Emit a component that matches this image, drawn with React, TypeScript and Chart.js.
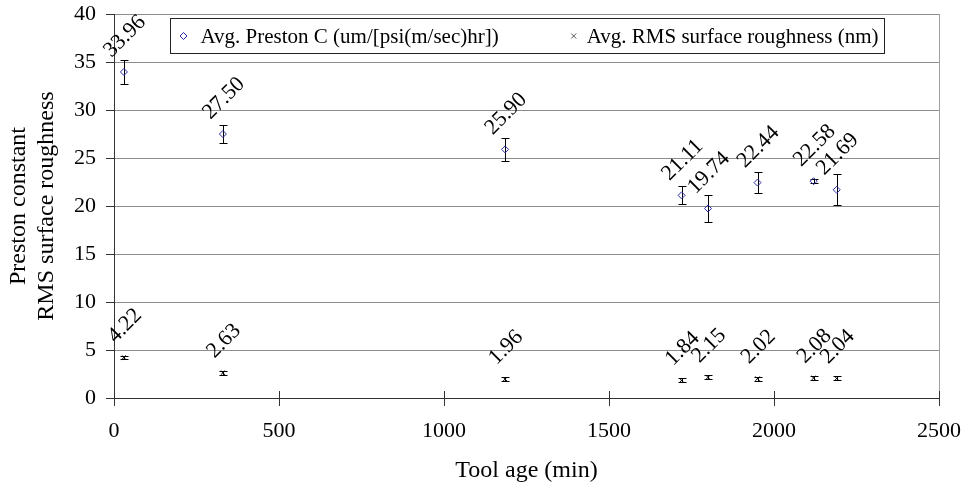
import React, { useEffect, useRef } from 'react';
import { Chart, registerables } from 'chart.js';

Chart.register(...registerables);

// ---- data ----
const toolAge = [30, 330, 1185, 1720, 1800, 1950, 2120, 2190];
const prestonC = [33.96, 27.5, 25.9, 21.11, 19.74, 22.44, 22.58, 21.69];
const prestonErr = [1.3, 0.95, 1.2, 0.95, 1.4, 1.1, 0.2, 1.6];
const rmsRoughness = [4.22, 2.63, 1.96, 1.84, 2.15, 2.02, 2.08, 2.04];
const rmsErr = [0.2, 0.2, 0.2, 0.2, 0.2, 0.2, 0.2, 0.2];
const xTicks = [0, 500, 1000, 1500, 2000, 2500];
const yTicks = [0, 5, 10, 15, 20, 25, 30, 35, 40];
const seriesNames = ['Avg. Preston C (um/[psi(m/sec)hr])', 'Avg. RMS surface roughness (nm)'];
const xTitle = 'Tool age (min)';
const yTitle = ['Preston constant', 'RMS surface roughness'];

const FONT = '"Liberation Serif", "Times New Roman", serif';
const PRESTON_COLOR = '#2a2aa0';

function diamond(ctx: CanvasRenderingContext2D, x: number, y: number, r: number) {
  ctx.beginPath();
  ctx.moveTo(x - r, y);
  ctx.lineTo(x, y - r);
  ctx.lineTo(x + r, y);
  ctx.lineTo(x, y + r);
  ctx.closePath();
  ctx.stroke();
}
function cross(ctx: CanvasRenderingContext2D, x: number, y: number, r: number) {
  ctx.beginPath();
  ctx.moveTo(x - r, y - r);
  ctx.lineTo(x + r, y + r);
  ctx.moveTo(x + r, y - r);
  ctx.lineTo(x - r, y + r);
  ctx.stroke();
}

const errorBarPlugin = {
  id: 'errorBars',
  beforeDatasetsDraw(chart: any) {
    const ctx = chart.ctx;
    const yScale = chart.scales.y;
    const area = chart.chartArea;
    ctx.save();
    // inner x tick marks
    ctx.strokeStyle = '#333';
    ctx.lineWidth = 1;
    chart.scales.x.ticks.forEach((t: any) => {
      const px = Math.round(chart.scales.x.getPixelForValue(t.value)) + 0.5;
      ctx.beginPath();
      ctx.moveTo(px, area.bottom);
      ctx.lineTo(px, area.bottom - 7);
      ctx.stroke();
    });
    ctx.strokeStyle = '#000';
    chart.data.datasets.forEach((ds: any, i: number) => {
      const meta = chart.getDatasetMeta(i);
      meta.data.forEach((el: any, j: number) => {
        const v = ds.data[j].y;
        const e = ds.errors[j];
        const x = Math.round(el.x) + 0.5;
        const y1 = Math.round(yScale.getPixelForValue(v + e)) + 0.5;
        const y2 = Math.round(yScale.getPixelForValue(v - e)) + 0.5;
        ctx.beginPath();
        ctx.moveTo(x, y1);
        ctx.lineTo(x, y2);
        ctx.moveTo(x - 4, y1);
        ctx.lineTo(x + 4, y1);
        ctx.moveTo(x - 4, y2);
        ctx.lineTo(x + 4, y2);
        ctx.stroke();
      });
    });
    ctx.restore();
  },
};

const dataLabelPlugin = {
  id: 'dataLabels',
  afterDatasetsDraw(chart: any) {
    const ctx = chart.ctx;
    ctx.save();
    ctx.font = `22px ${FONT}`;
    ctx.fillStyle = '#000';
    ctx.textAlign = 'center';
    ctx.textBaseline = 'middle';
    chart.data.datasets.forEach((ds: any, i: number) => {
      const meta = chart.getDatasetMeta(i);
      meta.data.forEach((el: any, j: number) => {
        const text = ds.data[j].y.toFixed(2);
        const w = ctx.measureText(text).width;
        const off = 11 + (w + 20) / (2 * Math.SQRT2);
        ctx.save();
        ctx.translate(el.x + 1, el.y - off);
        ctx.rotate(-Math.PI / 4);
        ctx.fillText(text, 0, 0);
        ctx.restore();
      });
    });
    ctx.restore();
  },
};

const legendPlugin = {
  id: 'boxLegend',
  afterDraw(chart: any) {
    const ctx = chart.ctx;
    const area = chart.chartArea;
    ctx.save();
    ctx.font = `21px ${FONT}`;
    const t1 = ctx.measureText(seriesNames[0]).width;
    const t2 = ctx.measureText(seriesNames[1]).width;
    const W = Math.round(30 + t1 + 88 + t2 + 6);
    const H = 35;
    const left = Math.round((area.left + area.right) / 2 - W / 2) + 0.5;
    const top = Math.round(area.top + 4) + 0.5;
    ctx.fillStyle = '#fff';
    ctx.fillRect(left, top, W, H);
    ctx.strokeStyle = '#222';
    ctx.lineWidth = 1;
    ctx.strokeRect(left, top, W, H);
    const cy = top + H / 2;
    ctx.strokeStyle = PRESTON_COLOR;
    diamond(ctx, left + 13, cy, 3.5);
    ctx.fillStyle = '#000';
    ctx.textBaseline = 'middle';
    ctx.textAlign = 'left';
    ctx.fillText(seriesNames[0], left + 30, cy + 1);
    const t2x = left + 30 + t1 + 88;
    ctx.strokeStyle = '#555';
    cross(ctx, t2x - 13, cy, 2.5);
    ctx.fillText(seriesNames[1], t2x, cy + 1);
    ctx.restore();
  },
};

export default function App() {
  const ref = useRef<HTMLCanvasElement>(null);
  useEffect(() => {
    document.body.style.margin = '0';
    if (!ref.current) return;
    const chart = new Chart(ref.current, {
      type: 'scatter',
      data: {
        datasets: [
          {
            label: seriesNames[0],
            data: toolAge.map((x, i) => ({ x, y: prestonC[i] })),
            errors: prestonErr,
            pointStyle: 'rectRot',
            radius: 3.5,
            borderColor: PRESTON_COLOR,
            backgroundColor: 'rgba(0,0,0,0)',
            borderWidth: 1,
            showLine: false,
          } as any,
          {
            label: seriesNames[1],
            data: toolAge.map((x, i) => ({ x, y: rmsRoughness[i] })),
            errors: rmsErr,
            pointStyle: 'crossRot',
            radius: 3,
            borderColor: '#000',
            backgroundColor: '#000',
            borderWidth: 1,
            showLine: false,
          } as any,
        ],
      },
      options: {
        animation: false,
        responsive: true,
        maintainAspectRatio: false,
        layout: { padding: { left: 0, top: 14, right: 25, bottom: 0 } },
        plugins: { legend: { display: false }, tooltip: { enabled: false } },
        scales: {
          x: {
            type: 'linear',
            min: xTicks[0],
            max: xTicks[xTicks.length - 1],
            ticks: {
              stepSize: xTicks[1] - xTicks[0],
              color: '#000',
              font: { family: FONT, size: 22 },
              padding: 12,
              maxRotation: 0,
              callback: (v: any) => String(v),
            },
            grid: {
              color: (c: any) => (c.tick && c.tick.value === xTicks[xTicks.length - 1] ? '#a0a0a0' : 'rgba(0,0,0,0)'),
              tickColor: '#333',
              tickLength: 8,
              drawOnChartArea: true,
            },
            border: { display: true, color: '#333' },
            title: {
              display: true,
              text: xTitle,
              color: '#000',
              font: { family: FONT, size: 24 },
              padding: { top: 0, bottom: 2 },
            },
            afterFit: (s: any) => {
              s.height = 89;
              s.paddingLeft = 0;
              s.paddingRight = 0;
            },
          },
          y: {
            type: 'linear',
            min: yTicks[0],
            max: yTicks[yTicks.length - 1],
            ticks: {
              stepSize: yTicks[1] - yTicks[0],
              color: '#000',
              font: { family: FONT, size: 22 },
              padding: 10,
            },
            grid: {
              color: '#8c8c8c',
              tickColor: '#333',
              tickLength: 8,
            },
            border: { display: true, color: '#333' },
            title: {
              display: true,
              text: yTitle,
              color: '#000',
              font: { family: FONT, size: 24 },
              padding: { top: 4, bottom: 0 },
            },
            afterFit: (s: any) => {
              s.width = 114;
              s.paddingTop = 0;
              s.paddingBottom = 0;
            },
          },
        },
      } as any,
      plugins: [errorBarPlugin, dataLabelPlugin, legendPlugin],
    });
    return () => chart.destroy();
  }, []);
  return (
    <div style={{ width: 964, height: 487, position: 'relative' }}>
      <canvas ref={ref} />
    </div>
  );
}
